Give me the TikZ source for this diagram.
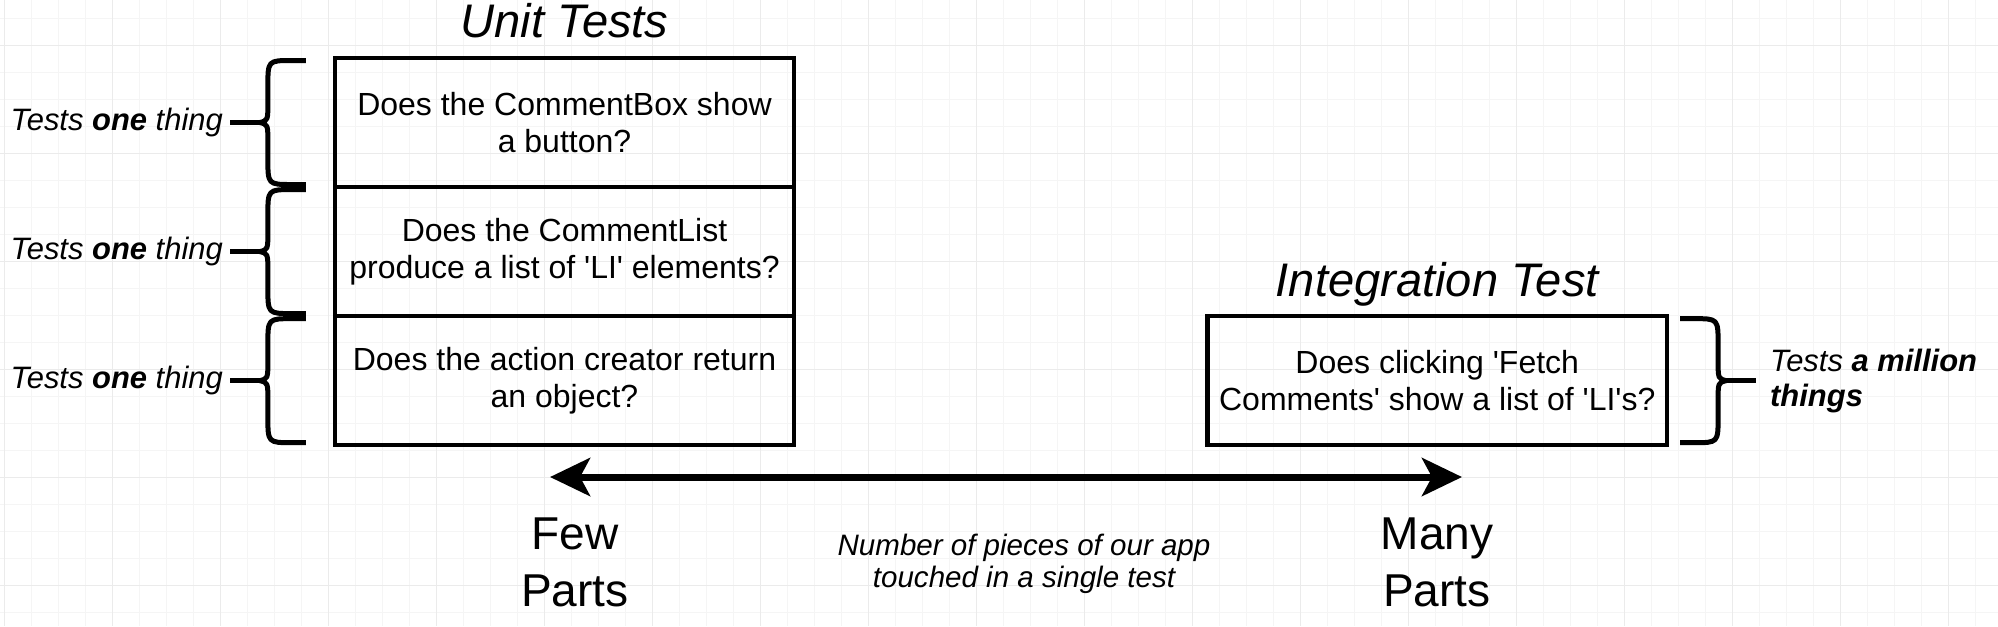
\documentclass[tikz,border=0pt]{standalone}
\usepackage{fontspec}
\setmainfont{Liberation Sans}
\usepackage{tikz}
\usetikzlibrary{positioning,arrows.meta,calc}

\newcommand{\quo}{\textquotesingle}

\tikzset{
  pics/brace/.style 2 args={code={
    \draw[bracestyle] ({#2*46},{-#1}) -- ({#2*32},{-#1})
      .. controls ({#2*8},{-#1}) .. ({#2*8},{-#1+26}) -- ({#2*8},-20)
      .. controls ({#2*8},-2) .. (0,0)
      .. controls ({#2*8},2) .. ({#2*8},20) -- ({#2*8},{#1-26})
      .. controls ({#2*8},{#1}) .. ({#2*32},{#1}) -- ({#2*46},{#1});
    \coordinate (-tip) at (0,0);
  }}
}

\begin{document}
\begin{tikzpicture}[
    x=0.01cm, y=-0.01cm,
    gridminor/.style={draw=black!4, line width=0.01cm},
    gridmajor/.style={draw=black!8, line width=0.01cm},
    testbox/.style={draw, line width=0.045cm, outer sep=0pt, minimum width=4.59cm,
                    minimum height=1.29cm, align=center, font=\fontsize{9.1pt}{10.5pt}\selectfont},
    heading/.style={inner sep=0pt, text depth=0pt, font=\fontsize{13.4pt}{16pt}\selectfont\itshape},
    sidenote/.style={inner sep=0.07cm, outer sep=0pt, font=\fontsize{8.8pt}{10pt}\selectfont\itshape},
    endlabel/.style={inner sep=0pt, align=center, font=\fontsize{13.1pt}{16.2pt}\selectfont},
    midnote/.style={inner sep=0pt, align=center, font=\fontsize{8.4pt}{9.1pt}\selectfont\itshape},
    bracestyle/.style={line width=0.05cm, line join=round},
    arrow/.style={{Stealth[length=0.4cm, width=0.38cm, inset=0.1cm]}-{Stealth[length=0.4cm, width=0.38cm, inset=0.1cm]},
                  line width=0.07cm},
  ]

  % Page and grid
  \fill[white] (0,0) rectangle (1998,626);
  \useasboundingbox (0,0) rectangle (1998,626);
  \foreach \gx in {4,31,...,1998} \draw[gridminor] (\gx,0) -- (\gx,626);
  \foreach \gy in {18,45,...,626} \draw[gridminor] (0,\gy) -- (1998,\gy);
  \foreach \gx in {4,112,...,1998} \draw[gridmajor] (\gx,0) -- (\gx,626);
  \foreach \gy in {45,153,...,626} \draw[gridmajor] (0,\gy) -- (1998,\gy);

  % Unit test boxes
  \node[testbox] (unit1) at (564.5,122.5) {Does the CommentBox show\\a button?};
  \node[testbox, below=0pt of unit1] (unit2) {Does the CommentList\\produce a list of \quo LI\quo{} elements?};
  \node[testbox, below=0pt of unit2] (unit3) {Does the action creator return\\an object?};

  % Integration test box
  \node[testbox, right=4.13cm of unit3] (integ) {Does clicking \quo Fetch\\Comments\quo{} show a list of \quo LI\quo s?};

  % Titles
  \node[heading, above=0.2cm of unit1] (unittitle) {Unit Tests};
  \node[heading, above=0.19cm of integ] (integtitle) {Integration Test};

  % Braces
  \pic (b1) at ($(unit1.west)+(-75,0)$) {brace={62}{1}};
  \pic (b2) at ($(unit2.west)+(-75,0)$) {brace={62}{1}};
  \pic (b3) at ($(unit3.west)+(-75,0)$) {brace={62}{1}};
  \pic (bi) at ($(integ.east)+(59,0)$) {brace={62}{-1}};

  % Brace labels
  \node[sidenote, left=0.3cm of b1-tip] (one1) {Tests \textbf{one} thing};
  \node[sidenote, left=0.3cm of b2-tip] (one2) {Tests \textbf{one} thing};
  \node[sidenote, left=0.3cm of b3-tip] (one3) {Tests \textbf{one} thing};
  \node[sidenote, align=left, outer sep=0.07cm, right=0.3cm of bi-tip] (million) {Tests \textbf{a million}\\\textbf{things}};
  \draw[bracestyle] (b1-tip) -- (one1.east);
  \draw[bracestyle] (b2-tip) -- (one2.east);
  \draw[bracestyle] (b3-tip) -- (one3.east);
  \draw[bracestyle] (bi-tip) -- (million.west);

  % Scale arrow
  \coordinate (fewend) at (550,477);
  \coordinate (manyend) at (1462,477);
  \draw[arrow] (fewend) -- (manyend);
  \node[endlabel, anchor=north] (few) at (575,517) {Few\\Parts};
  \node[endlabel, anchor=north] (many) at (1437,517) {Many\\Parts};
  \node[midnote, anchor=north] (span) at (1024,533) {Number of pieces of our app\\touched in a single test};

\end{tikzpicture}
\end{document}
